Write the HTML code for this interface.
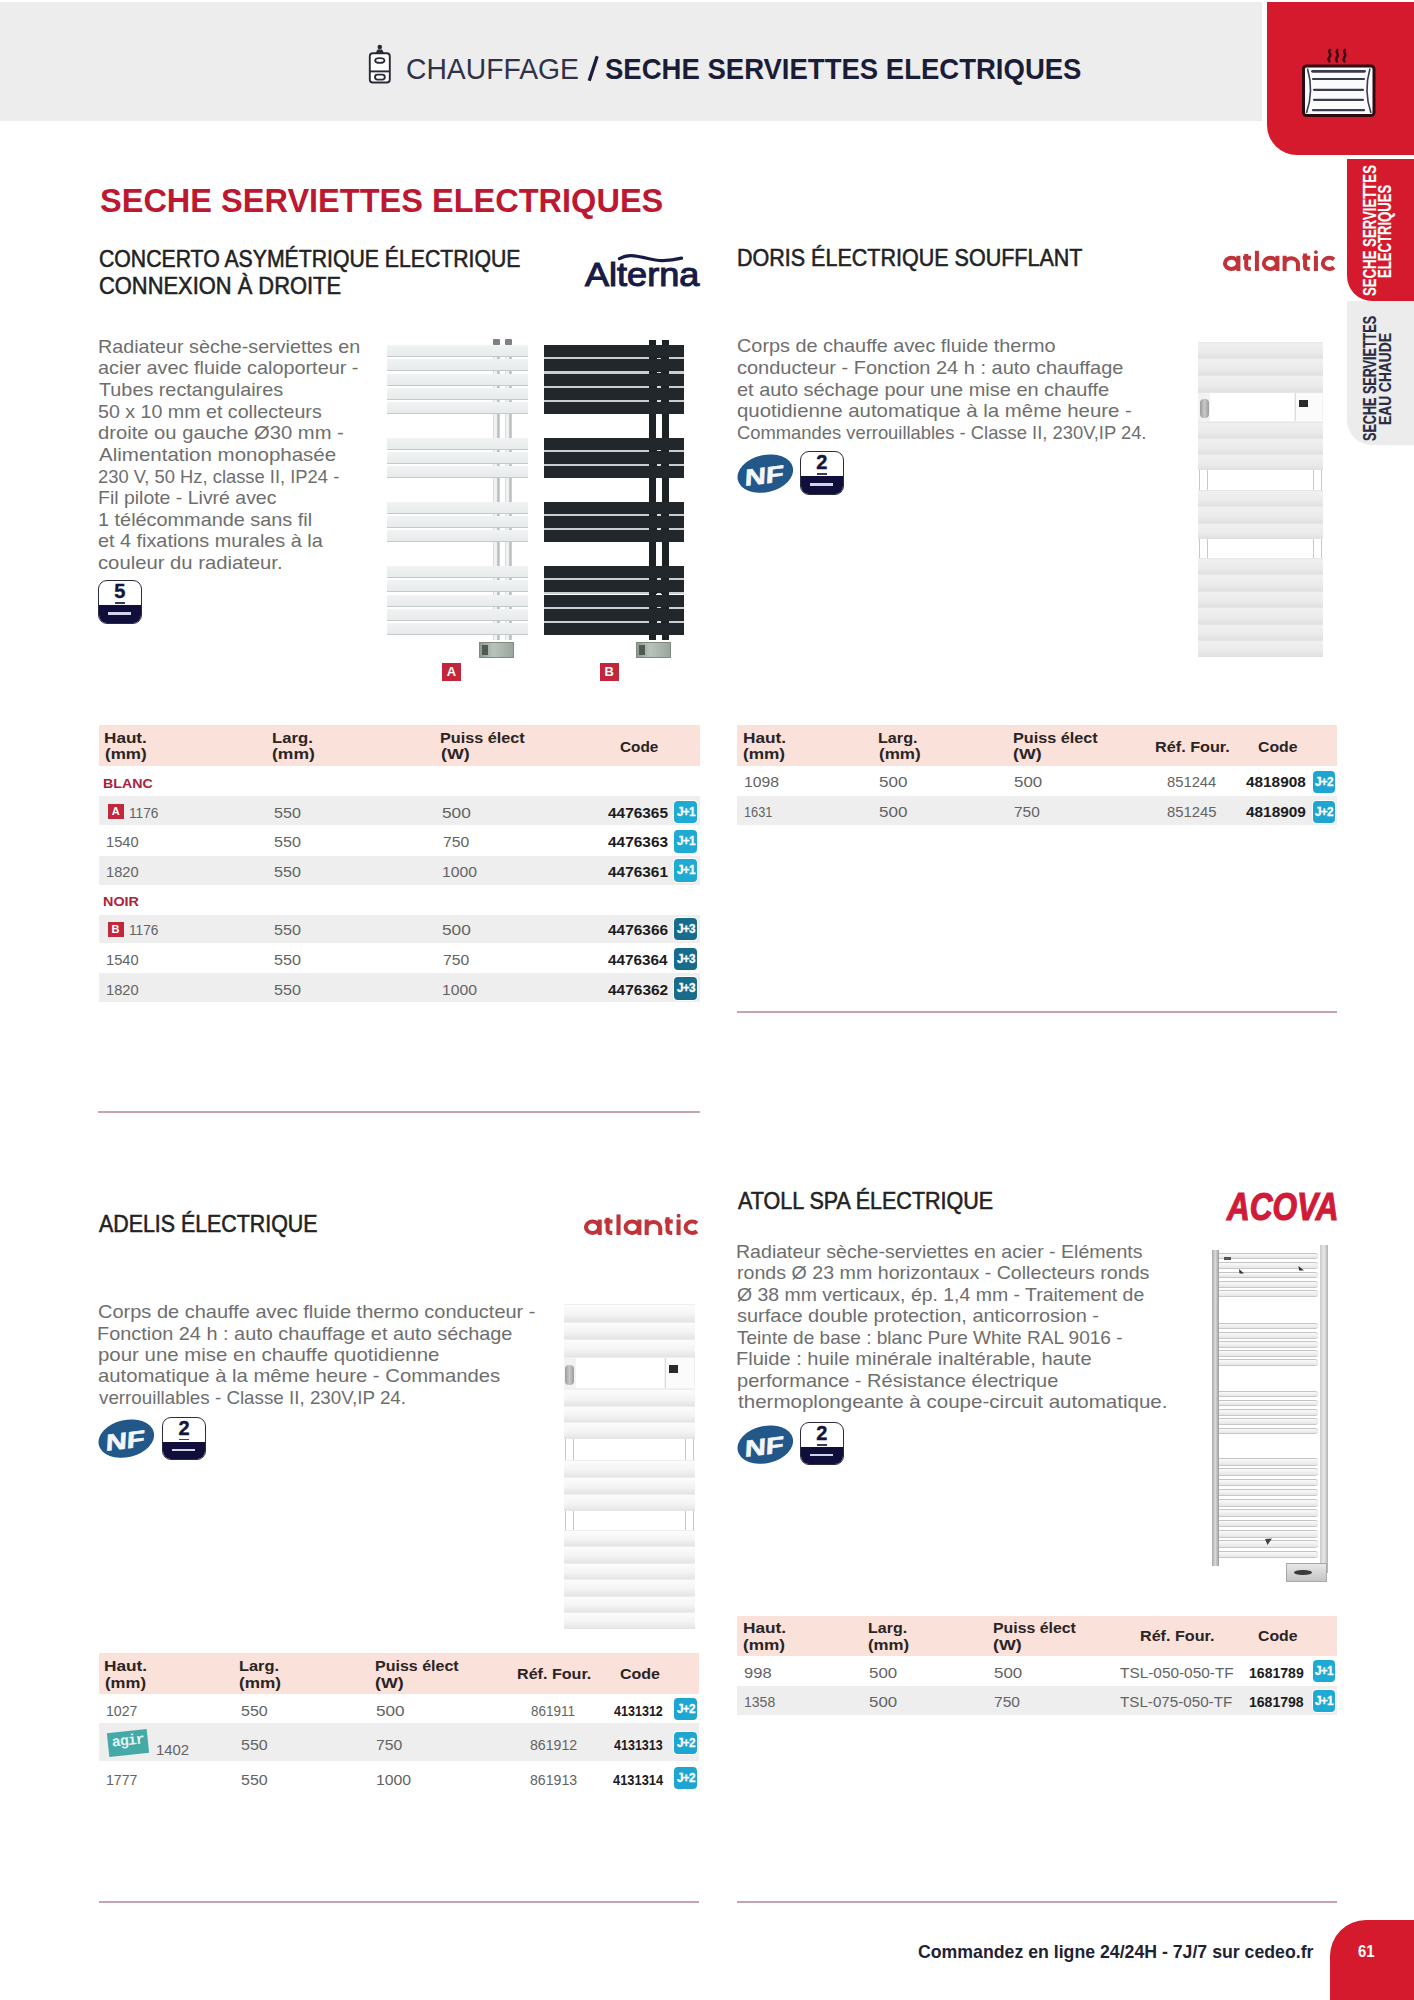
<!DOCTYPE html>
<html><head><meta charset="utf-8"><style>
html,body{margin:0;padding:0;}
body{width:1414px;height:2000px;position:relative;overflow:hidden;background:#fff;font-family:"Liberation Sans",sans-serif;}
.t{position:absolute;white-space:nowrap;transform-origin:0 0;}
.jb{position:absolute;border-radius:4px;color:#fff;font-weight:700;font-size:13px;line-height:22px;text-align:center;letter-spacing:-0.8px;box-shadow:0 0 0 1px #fff;}
.jb span{display:inline-block;transform:scaleX(0.9);-webkit-text-stroke:0.3px #fff;}
.ab{position:absolute;width:16px;height:15px;background:#c0283c;color:#fff;font-weight:700;font-size:11px;line-height:15px;text-align:center;}
.wb{position:absolute;box-sizing:border-box;border:1.9px solid #2b2c44;border-radius:9px;overflow:hidden;background:#fff;}
.wbn{position:absolute;left:0;right:0;top:1px;text-align:center;font-weight:700;font-size:20px;line-height:19px;color:#14153a;-webkit-text-stroke:0.4px #14153a;}
.wbl{position:absolute;left:16px;right:16px;top:21px;height:1.8px;background:#3b3d5e;}
.wbb{position:absolute;left:0;right:0;bottom:0;height:17.5px;background:#100f3c;}
.wbb i{position:absolute;left:9px;right:9.5px;top:7px;height:2.6px;background:#d3d4ea;}
.abl{position:absolute;width:19px;height:18px;background:#c3263a;color:#fff;font-weight:700;font-size:13px;line-height:18px;text-align:center;}
.agir{position:absolute;width:40px;height:24px;background:#45a9a6;color:#dff3f2;font-weight:700;font-size:15px;line-height:22px;text-align:center;transform:rotate(-6deg);font-family:"Liberation Mono",monospace;letter-spacing:-1px;}
</style></head><body>
<div style="position:absolute;left:0;top:2px;width:1262px;height:119px;background:#ededed"></div>
<svg style="position:absolute;left:580px;top:50px" width="25" height="36" viewBox="580 50 25 36"><line x1="589.2" y1="80.8" x2="597.2" y2="56.2" stroke="#1a1c38" stroke-width="3.3"/></svg>
<div style="position:absolute;left:1330px;top:1920px;width:84px;height:80px;background:#d41a2c;border-top-left-radius:36px"></div>
<div style="position:absolute;left:98.0px;top:1110.5px;width:601.8px;height:2.2px;background:#c9a3aa"></div>
<div style="position:absolute;left:737.0px;top:1010.5px;width:600.3px;height:2.2px;background:#c9a3aa"></div>
<div style="position:absolute;left:98.8px;top:1901.3px;width:600.7px;height:2.2px;background:#c9a3aa"></div>
<div style="position:absolute;left:736.6px;top:1900.7px;width:600.7px;height:2.2px;background:#c9a3aa"></div>
<div style="position:absolute;left:98.5px;top:725.1px;width:601.0px;height:41.1px;background:#fae1d9"></div>
<div style="position:absolute;left:98.5px;top:796.4px;width:601.0px;height:29.0px;background:#eeeeee"></div>
<div style="position:absolute;left:98.5px;top:856.1px;width:601.0px;height:28.7px;background:#eeeeee"></div>
<div style="position:absolute;left:98.5px;top:914.9px;width:601.0px;height:28.1px;background:#eeeeee"></div>
<div style="position:absolute;left:98.5px;top:973.3px;width:601.0px;height:28.9px;background:#eeeeee"></div>
<div class="jb" style="left:674.0px;top:800.8px;width:23.0px;height:22.6px;background:#1eaad3"><span>J+1</span></div>
<div class="jb" style="left:674.0px;top:830.0px;width:23.0px;height:22.6px;background:#1eaad3"><span>J+1</span></div>
<div class="jb" style="left:674.0px;top:859.4px;width:23.0px;height:22.6px;background:#1eaad3"><span>J+1</span></div>
<div class="jb" style="left:674.0px;top:917.9px;width:23.0px;height:22.6px;background:#176c8c"><span>J+3</span></div>
<div class="jb" style="left:674.0px;top:947.6px;width:23.0px;height:22.6px;background:#176c8c"><span>J+3</span></div>
<div class="jb" style="left:674.0px;top:977.3px;width:23.0px;height:22.6px;background:#176c8c"><span>J+3</span></div>
<div class="ab" style="left:107.7px;top:804px">A</div>
<div class="ab" style="left:107.5px;top:921.6px">B</div>
<div style="position:absolute;left:737.0px;top:725.3px;width:600.2px;height:40.5px;background:#fae1d9"></div>
<div style="position:absolute;left:737.0px;top:795.6px;width:600.2px;height:29.4px;background:#eeeeee"></div>
<div class="jb" style="left:1313.0px;top:771.2px;width:22.4px;height:22.0px;background:#1fa5d2"><span>J+2</span></div>
<div class="jb" style="left:1313.0px;top:800.8px;width:22.4px;height:22.0px;background:#1fa5d2"><span>J+2</span></div>
<div style="position:absolute;left:98.5px;top:1652.8px;width:600.5px;height:41.5px;background:#fae1d9"></div>
<div style="position:absolute;left:98.5px;top:1723.2px;width:600.5px;height:37.4px;background:#eeeeee"></div>
<div class="jb" style="left:673.6px;top:1697.6px;width:23.5px;height:22.0px;background:#1fa5d2"><span>J+2</span></div>
<div class="jb" style="left:673.6px;top:1732.0px;width:23.5px;height:22.0px;background:#1fa5d2"><span>J+2</span></div>
<div class="jb" style="left:673.6px;top:1767.0px;width:23.5px;height:22.0px;background:#1fa5d2"><span>J+2</span></div>
<div class="agir" style="left:107.5px;top:1731px">agir</div>
<div style="position:absolute;left:737.0px;top:1615.9px;width:600.2px;height:40.6px;background:#fae1d9"></div>
<div style="position:absolute;left:737.0px;top:1685.6px;width:600.2px;height:29.7px;background:#eeeeee"></div>
<div class="jb" style="left:1313.0px;top:1660.4px;width:22.4px;height:22.0px;background:#1eaad3"><span>J+1</span></div>
<div class="jb" style="left:1313.0px;top:1689.8px;width:22.4px;height:22.0px;background:#1eaad3"><span>J+1</span></div>
<svg style="position:absolute;left:360px;top:40px" width="40" height="48" viewBox="360 40 40 48"><g fill="none" stroke="#2a2b3a" stroke-width="1.9"><rect x="369.8" y="53.3" width="20" height="29.2" rx="3" fill="#fff"/><line x1="369.8" y1="71.4" x2="389.8" y2="71.4"/><ellipse cx="379.8" cy="60.5" rx="4.6" ry="2.4"/><rect x="375" y="74.6" width="9.8" height="5" rx="2.5"/></g><path d="M375.5 53.3 L377.5 49.5 L382 49.5 L384.2 53.3 Z" fill="#2a2b3a"/><circle cx="379.8" cy="47" r="2.3" fill="#2a2b3a"/></svg>
<div style="position:absolute;left:1266.5px;top:2px;width:147.5px;height:153px;background:#d41a2c;border-bottom-left-radius:30px"></div>
<svg style="position:absolute;left:1295px;top:44px" width="88" height="80" viewBox="1295 44 88 80"><rect x="1303.5" y="66" width="70.5" height="49.5" rx="3" fill="#fbfbfd" stroke="#2c0c14" stroke-width="3"/><path d="M1307.5 68.5 Q1314 91 1306.5 113" fill="none" stroke="#3a3d4c" stroke-width="1.6"/><path d="M1370 68.5 Q1363.5 91 1371 113" fill="none" stroke="#3a3d4c" stroke-width="1.6"/><g stroke="#3a3d4c" stroke-width="2.2" stroke-linecap="round"><line x1="1312.5" y1="71.3" x2="1364.5" y2="71.3" stroke-width="2.8"/><line x1="1313" y1="79" x2="1364" y2="79"/><line x1="1314" y1="89.8" x2="1363" y2="89.8"/><line x1="1314" y1="99.8" x2="1363" y2="99.8"/><line x1="1313" y1="110.2" x2="1364" y2="110.2"/></g><g fill="none" stroke="#3d0c14" stroke-width="2.5" stroke-linecap="round"><path d="M1329.5 61.5 q-1.8 -2.2 0 -4.4 q1.8 -2.2 0 -4.4 q-0.9 -1.3 0.4 -2.8"/><path d="M1337 61.5 q-1.8 -2.2 0 -4.4 q1.8 -2.2 0 -4.4 q-0.9 -1.3 0.4 -2.8"/><path d="M1344.5 61.5 q-1.8 -2.2 0 -4.4 q1.8 -2.2 0 -4.4 q-0.9 -1.3 0.4 -2.8"/></g></svg>
<div style="position:absolute;left:1347px;top:158.5px;width:67px;height:142.5px;background:#d41a2c;border-bottom-left-radius:25px"></div>
<div style="position:absolute;left:1347px;top:301px;width:67px;height:143.5px;background:#ececec;border-bottom-left-radius:25px"></div>
<svg style="position:absolute;left:600px;top:248px" width="100" height="20" viewBox="600 248 100 20"><path d="M619.5 258.6 C624 256 629 255.2 634 255.8 C645 257 652 260.5 662 260.6 C670 260.7 676 259.6 681.5 258.2" fill="none" stroke="#161b47" stroke-width="3.3" stroke-linecap="round"/></svg>
<svg style="position:absolute;left:1223.00px;top:248.20px;overflow:visible" width="120" height="24" viewBox="0 -23 120 24"><g transform="scale(1.0000)" fill="none" stroke="#bf3339" stroke-width="4.00"><ellipse cx="8.40" cy="-7.60" rx="6.50" ry="5.60"/><line x1="15.40" y1="-15.20" x2="15.40" y2="0"/><path d="M23.20 -17.00 V-4.6 Q23.20 -2.0 27.80 -2.0"/><line x1="20.00" y1="-13.3" x2="28.00" y2="-13.3"/><line x1="33.90" y1="-20.20" x2="33.90" y2="0"/><ellipse cx="47.30" cy="-7.60" rx="6.50" ry="5.60"/><line x1="54.40" y1="-15.20" x2="54.40" y2="0"/><path d="M61.60 -15.2 V0 M61.60 0 V-7.4 A6.7 6.2 0 0 1 74.90 -7.4 V0"/><path d="M82.10 -17.50 V-4.6 Q82.10 -2.0 86.70 -2.0"/><line x1="79.40" y1="-13.3" x2="87.20" y2="-13.3"/><line x1="92.90" y1="-15.20" x2="92.90" y2="0"/><path d="M111.00 -11.60 A6.6 5.6 0 1 0 111.00 -3.60"/><circle cx="92.90" cy="-18.9" r="1.9" fill="#bf3339" stroke="none"/></g></svg>
<svg style="position:absolute;left:584.30px;top:1212.10px;overflow:visible" width="120" height="24" viewBox="0 -23 120 24"><g transform="scale(1.0180)" fill="none" stroke="#bf3339" stroke-width="4.00"><ellipse cx="8.40" cy="-7.60" rx="6.50" ry="5.60"/><line x1="15.40" y1="-15.20" x2="15.40" y2="0"/><path d="M23.20 -17.00 V-4.6 Q23.20 -2.0 27.80 -2.0"/><line x1="20.00" y1="-13.3" x2="28.00" y2="-13.3"/><line x1="33.90" y1="-20.20" x2="33.90" y2="0"/><ellipse cx="47.30" cy="-7.60" rx="6.50" ry="5.60"/><line x1="54.40" y1="-15.20" x2="54.40" y2="0"/><path d="M61.60 -15.2 V0 M61.60 0 V-7.4 A6.7 6.2 0 0 1 74.90 -7.4 V0"/><path d="M82.10 -17.50 V-4.6 Q82.10 -2.0 86.70 -2.0"/><line x1="79.40" y1="-13.3" x2="87.20" y2="-13.3"/><line x1="92.90" y1="-15.20" x2="92.90" y2="0"/><path d="M111.00 -11.60 A6.6 5.6 0 1 0 111.00 -3.60"/><circle cx="92.90" cy="-18.9" r="1.9" fill="#bf3339" stroke="none"/></g></svg>
<div class="wb" style="left:98.0px;top:580.0px;width:43.5px;height:43.5px"><div class="wbn">5</div><div class="wbl"></div><div class="wbb"><i></i></div></div>
<div class="wb" style="left:800.0px;top:451.0px;width:43.5px;height:43.5px"><div class="wbn">2</div><div class="wbl"></div><div class="wbb"><i></i></div></div>
<div class="wb" style="left:162.4px;top:1416.5px;width:43.5px;height:43.5px"><div class="wbn">2</div><div class="wbl"></div><div class="wbb"><i></i></div></div>
<div class="wb" style="left:800.0px;top:1421.8px;width:43.5px;height:43.5px"><div class="wbn">2</div><div class="wbl"></div><div class="wbb"><i></i></div></div>
<svg style="position:absolute;left:737.0px;top:452.5px" width="58" height="42" viewBox="0 0 58 42"><ellipse cx="28.3" cy="20.6" rx="28.2" ry="18.6" transform="rotate(-13 28.3 20.6)" fill="#225789"/><g transform="rotate(-7 28 21)"><text x="11.5" y="30.5" font-family="Liberation Sans" font-weight="700" font-size="23" fill="#f4f7fa" textLength="39" lengthAdjust="spacingAndGlyphs" transform="skewX(-10)" stroke="#f4f7fa" stroke-width="0.6">NF</text></g></svg>
<svg style="position:absolute;left:98.0px;top:1417.5px" width="58" height="42" viewBox="0 0 58 42"><ellipse cx="28.3" cy="20.6" rx="28.2" ry="18.6" transform="rotate(-13 28.3 20.6)" fill="#225789"/><g transform="rotate(-7 28 21)"><text x="11.5" y="30.5" font-family="Liberation Sans" font-weight="700" font-size="23" fill="#f4f7fa" textLength="39" lengthAdjust="spacingAndGlyphs" transform="skewX(-10)" stroke="#f4f7fa" stroke-width="0.6">NF</text></g></svg>
<svg style="position:absolute;left:737.0px;top:1423.5px" width="58" height="42" viewBox="0 0 58 42"><ellipse cx="28.3" cy="20.6" rx="28.2" ry="18.6" transform="rotate(-13 28.3 20.6)" fill="#225789"/><g transform="rotate(-7 28 21)"><text x="11.5" y="30.5" font-family="Liberation Sans" font-weight="700" font-size="23" fill="#f4f7fa" textLength="39" lengthAdjust="spacingAndGlyphs" transform="skewX(-10)" stroke="#f4f7fa" stroke-width="0.6">NF</text></g></svg>
<div style="position:absolute;left:492.6px;top:339.7px;width:7.5px;height:300.1px;background:linear-gradient(90deg,#c9cdcd 0,#f3f5f5 20%,#eef0f0 50%,#b4b8b8 70%,#d2d5d5 100%)"></div>
<div style="position:absolute;left:493.1px;top:339.0px;width:6.5px;height:5.5px;background:#7d8181;border-radius:1px"></div>
<div style="position:absolute;left:504.6px;top:339.7px;width:7.5px;height:300.1px;background:linear-gradient(90deg,#c9cdcd 0,#f3f5f5 20%,#eef0f0 50%,#b4b8b8 70%,#d2d5d5 100%)"></div>
<div style="position:absolute;left:505.1px;top:339.0px;width:6.5px;height:5.5px;background:#7d8181;border-radius:1px"></div>
<div style="position:absolute;left:387.3px;top:345.2px;width:140.7px;height:12.0px;background:linear-gradient(#f1f3f3,#e7ebeb);border-bottom:1.6px solid #c6c9c9;box-sizing:border-box"></div>
<div style="position:absolute;left:387.3px;top:359.4px;width:140.7px;height:12.0px;background:linear-gradient(#f1f3f3,#e7ebeb);border-bottom:1.6px solid #c6c9c9;box-sizing:border-box"></div>
<div style="position:absolute;left:387.3px;top:373.7px;width:140.7px;height:12.0px;background:linear-gradient(#f1f3f3,#e7ebeb);border-bottom:1.6px solid #c6c9c9;box-sizing:border-box"></div>
<div style="position:absolute;left:387.3px;top:387.9px;width:140.7px;height:12.0px;background:linear-gradient(#f1f3f3,#e7ebeb);border-bottom:1.6px solid #c6c9c9;box-sizing:border-box"></div>
<div style="position:absolute;left:387.3px;top:402.2px;width:140.7px;height:12.0px;background:linear-gradient(#f1f3f3,#e7ebeb);border-bottom:1.6px solid #c6c9c9;box-sizing:border-box"></div>
<div style="position:absolute;left:387.3px;top:437.5px;width:140.7px;height:12.0px;background:linear-gradient(#f1f3f3,#e7ebeb);border-bottom:1.6px solid #c6c9c9;box-sizing:border-box"></div>
<div style="position:absolute;left:387.3px;top:451.8px;width:140.7px;height:12.0px;background:linear-gradient(#f1f3f3,#e7ebeb);border-bottom:1.6px solid #c6c9c9;box-sizing:border-box"></div>
<div style="position:absolute;left:387.3px;top:466.0px;width:140.7px;height:12.0px;background:linear-gradient(#f1f3f3,#e7ebeb);border-bottom:1.6px solid #c6c9c9;box-sizing:border-box"></div>
<div style="position:absolute;left:387.3px;top:501.8px;width:140.7px;height:12.0px;background:linear-gradient(#f1f3f3,#e7ebeb);border-bottom:1.6px solid #c6c9c9;box-sizing:border-box"></div>
<div style="position:absolute;left:387.3px;top:516.0px;width:140.7px;height:12.0px;background:linear-gradient(#f1f3f3,#e7ebeb);border-bottom:1.6px solid #c6c9c9;box-sizing:border-box"></div>
<div style="position:absolute;left:387.3px;top:530.3px;width:140.7px;height:12.0px;background:linear-gradient(#f1f3f3,#e7ebeb);border-bottom:1.6px solid #c6c9c9;box-sizing:border-box"></div>
<div style="position:absolute;left:387.3px;top:566.0px;width:140.7px;height:12.0px;background:linear-gradient(#f1f3f3,#e7ebeb);border-bottom:1.6px solid #c6c9c9;box-sizing:border-box"></div>
<div style="position:absolute;left:387.3px;top:580.2px;width:140.7px;height:12.0px;background:linear-gradient(#f1f3f3,#e7ebeb);border-bottom:1.6px solid #c6c9c9;box-sizing:border-box"></div>
<div style="position:absolute;left:387.3px;top:594.5px;width:140.7px;height:12.0px;background:linear-gradient(#f1f3f3,#e7ebeb);border-bottom:1.6px solid #c6c9c9;box-sizing:border-box"></div>
<div style="position:absolute;left:387.3px;top:608.8px;width:140.7px;height:12.0px;background:linear-gradient(#f1f3f3,#e7ebeb);border-bottom:1.6px solid #c6c9c9;box-sizing:border-box"></div>
<div style="position:absolute;left:387.3px;top:623.0px;width:140.7px;height:12.0px;background:linear-gradient(#f1f3f3,#e7ebeb);border-bottom:1.6px solid #c6c9c9;box-sizing:border-box"></div>
<div style="position:absolute;left:478.7px;top:642.0px;width:35.0px;height:15.8px;background:linear-gradient(90deg,#8e9a92,#b9c3bc 40%,#9ba69e);border:1px solid #7f8a82;box-sizing:border-box"></div>
<div style="position:absolute;left:482.2px;top:645.0px;width:5.5px;height:10.0px;background:#4f5a52"></div>
<div style="position:absolute;left:649.0px;top:340.2px;width:7.3px;height:299.6px;background:#1d2224"></div>
<div style="position:absolute;left:661.6px;top:340.2px;width:7.3px;height:299.6px;background:#1d2224"></div>
<div style="position:absolute;left:544.4px;top:345.2px;width:139.6px;height:12.0px;background:#21272a"></div>
<div style="position:absolute;left:544.4px;top:359.4px;width:139.6px;height:12.0px;background:#21272a"></div>
<div style="position:absolute;left:544.4px;top:373.7px;width:139.6px;height:12.0px;background:#21272a"></div>
<div style="position:absolute;left:544.4px;top:387.9px;width:139.6px;height:12.0px;background:#21272a"></div>
<div style="position:absolute;left:544.4px;top:402.2px;width:139.6px;height:12.0px;background:#21272a"></div>
<div style="position:absolute;left:544.4px;top:357.2px;width:139.6px;height:2.2px;background:#c9ced1"></div>
<div style="position:absolute;left:649.0px;top:357.2px;width:19.9px;height:2.2px;background:#1d2224"></div>
<div style="position:absolute;left:656.5px;top:357.5px;width:4.9px;height:1.6px;background:#d5d9da"></div>
<div style="position:absolute;left:544.4px;top:371.4px;width:139.6px;height:2.2px;background:#c9ced1"></div>
<div style="position:absolute;left:649.0px;top:371.4px;width:19.9px;height:2.2px;background:#1d2224"></div>
<div style="position:absolute;left:656.5px;top:371.8px;width:4.9px;height:1.6px;background:#d5d9da"></div>
<div style="position:absolute;left:544.4px;top:385.7px;width:139.6px;height:2.2px;background:#c9ced1"></div>
<div style="position:absolute;left:649.0px;top:385.7px;width:19.9px;height:2.2px;background:#1d2224"></div>
<div style="position:absolute;left:656.5px;top:386.0px;width:4.9px;height:1.6px;background:#d5d9da"></div>
<div style="position:absolute;left:544.4px;top:399.9px;width:139.6px;height:2.2px;background:#c9ced1"></div>
<div style="position:absolute;left:649.0px;top:399.9px;width:19.9px;height:2.2px;background:#1d2224"></div>
<div style="position:absolute;left:656.5px;top:400.2px;width:4.9px;height:1.6px;background:#d5d9da"></div>
<div style="position:absolute;left:544.4px;top:437.5px;width:139.6px;height:12.0px;background:#21272a"></div>
<div style="position:absolute;left:544.4px;top:451.8px;width:139.6px;height:12.0px;background:#21272a"></div>
<div style="position:absolute;left:544.4px;top:466.0px;width:139.6px;height:12.0px;background:#21272a"></div>
<div style="position:absolute;left:544.4px;top:449.5px;width:139.6px;height:2.2px;background:#c9ced1"></div>
<div style="position:absolute;left:649.0px;top:449.5px;width:19.9px;height:2.2px;background:#1d2224"></div>
<div style="position:absolute;left:656.5px;top:449.8px;width:4.9px;height:1.6px;background:#d5d9da"></div>
<div style="position:absolute;left:544.4px;top:463.8px;width:139.6px;height:2.2px;background:#c9ced1"></div>
<div style="position:absolute;left:649.0px;top:463.8px;width:19.9px;height:2.2px;background:#1d2224"></div>
<div style="position:absolute;left:656.5px;top:464.1px;width:4.9px;height:1.6px;background:#d5d9da"></div>
<div style="position:absolute;left:544.4px;top:501.8px;width:139.6px;height:12.0px;background:#21272a"></div>
<div style="position:absolute;left:544.4px;top:516.0px;width:139.6px;height:12.0px;background:#21272a"></div>
<div style="position:absolute;left:544.4px;top:530.3px;width:139.6px;height:12.0px;background:#21272a"></div>
<div style="position:absolute;left:544.4px;top:513.8px;width:139.6px;height:2.2px;background:#c9ced1"></div>
<div style="position:absolute;left:649.0px;top:513.8px;width:19.9px;height:2.2px;background:#1d2224"></div>
<div style="position:absolute;left:656.5px;top:514.1px;width:4.9px;height:1.7px;background:#d5d9da"></div>
<div style="position:absolute;left:544.4px;top:528.0px;width:139.6px;height:2.2px;background:#c9ced1"></div>
<div style="position:absolute;left:649.0px;top:528.0px;width:19.9px;height:2.2px;background:#1d2224"></div>
<div style="position:absolute;left:656.5px;top:528.3px;width:4.9px;height:1.7px;background:#d5d9da"></div>
<div style="position:absolute;left:544.4px;top:566.0px;width:139.6px;height:12.0px;background:#21272a"></div>
<div style="position:absolute;left:544.4px;top:580.2px;width:139.6px;height:12.0px;background:#21272a"></div>
<div style="position:absolute;left:544.4px;top:594.5px;width:139.6px;height:12.0px;background:#21272a"></div>
<div style="position:absolute;left:544.4px;top:608.8px;width:139.6px;height:12.0px;background:#21272a"></div>
<div style="position:absolute;left:544.4px;top:623.0px;width:139.6px;height:12.0px;background:#21272a"></div>
<div style="position:absolute;left:544.4px;top:578.0px;width:139.6px;height:2.2px;background:#c9ced1"></div>
<div style="position:absolute;left:649.0px;top:578.0px;width:19.9px;height:2.2px;background:#1d2224"></div>
<div style="position:absolute;left:656.5px;top:578.3px;width:4.9px;height:1.7px;background:#d5d9da"></div>
<div style="position:absolute;left:544.4px;top:592.2px;width:139.6px;height:2.2px;background:#c9ced1"></div>
<div style="position:absolute;left:649.0px;top:592.2px;width:19.9px;height:2.2px;background:#1d2224"></div>
<div style="position:absolute;left:656.5px;top:592.5px;width:4.9px;height:1.7px;background:#d5d9da"></div>
<div style="position:absolute;left:544.4px;top:606.5px;width:139.6px;height:2.2px;background:#c9ced1"></div>
<div style="position:absolute;left:649.0px;top:606.5px;width:19.9px;height:2.2px;background:#1d2224"></div>
<div style="position:absolute;left:656.5px;top:606.8px;width:4.9px;height:1.7px;background:#d5d9da"></div>
<div style="position:absolute;left:544.4px;top:620.8px;width:139.6px;height:2.2px;background:#c9ced1"></div>
<div style="position:absolute;left:649.0px;top:620.8px;width:19.9px;height:2.2px;background:#1d2224"></div>
<div style="position:absolute;left:656.5px;top:621.0px;width:4.9px;height:1.7px;background:#d5d9da"></div>
<div style="position:absolute;left:635.7px;top:642.0px;width:35.0px;height:15.8px;background:linear-gradient(90deg,#8e9a92,#b9c3bc 40%,#9ba69e);border:1px solid #7f8a82;box-sizing:border-box"></div>
<div style="position:absolute;left:639.2px;top:645.0px;width:5.5px;height:10.0px;background:#4f5a52"></div>
<div class="abl" style="left:442px;top:662.6px">A</div>
<div class="abl" style="left:599.6px;top:662.6px">B</div>
<div style="position:absolute;left:1197.5px;top:341.6px;width:125.5px;height:16.8px;background:linear-gradient(#f0f0f0,#ebebeb 60%,#e0e0e0);border-top:1px solid #e6e6e6;box-sizing:border-box"></div>
<div style="position:absolute;left:1197.5px;top:358.4px;width:125.5px;height:16.8px;background:linear-gradient(#f0f0f0,#ebebeb 60%,#e0e0e0);border-top:1px solid #e6e6e6;box-sizing:border-box"></div>
<div style="position:absolute;left:1197.5px;top:375.2px;width:125.5px;height:16.8px;background:linear-gradient(#f0f0f0,#ebebeb 60%,#e0e0e0);border-top:1px solid #e6e6e6;box-sizing:border-box"></div>
<div style="position:absolute;left:1197.5px;top:421.7px;width:125.5px;height:16.2px;background:linear-gradient(#f0f0f0,#ebebeb 60%,#e0e0e0);border-top:1px solid #e6e6e6;box-sizing:border-box"></div>
<div style="position:absolute;left:1197.5px;top:437.9px;width:125.5px;height:16.2px;background:linear-gradient(#f0f0f0,#ebebeb 60%,#e0e0e0);border-top:1px solid #e6e6e6;box-sizing:border-box"></div>
<div style="position:absolute;left:1197.5px;top:454.2px;width:125.5px;height:16.2px;background:linear-gradient(#f0f0f0,#ebebeb 60%,#e0e0e0);border-top:1px solid #e6e6e6;box-sizing:border-box"></div>
<div style="position:absolute;left:1197.5px;top:490.2px;width:125.5px;height:16.2px;background:linear-gradient(#f0f0f0,#ebebeb 60%,#e0e0e0);border-top:1px solid #e6e6e6;box-sizing:border-box"></div>
<div style="position:absolute;left:1197.5px;top:506.4px;width:125.5px;height:16.2px;background:linear-gradient(#f0f0f0,#ebebeb 60%,#e0e0e0);border-top:1px solid #e6e6e6;box-sizing:border-box"></div>
<div style="position:absolute;left:1197.5px;top:522.6px;width:125.5px;height:16.2px;background:linear-gradient(#f0f0f0,#ebebeb 60%,#e0e0e0);border-top:1px solid #e6e6e6;box-sizing:border-box"></div>
<div style="position:absolute;left:1197.5px;top:557.7px;width:125.5px;height:16.5px;background:linear-gradient(#f0f0f0,#ebebeb 60%,#e0e0e0);border-top:1px solid #e6e6e6;box-sizing:border-box"></div>
<div style="position:absolute;left:1197.5px;top:574.2px;width:125.5px;height:16.5px;background:linear-gradient(#f0f0f0,#ebebeb 60%,#e0e0e0);border-top:1px solid #e6e6e6;box-sizing:border-box"></div>
<div style="position:absolute;left:1197.5px;top:590.7px;width:125.5px;height:16.5px;background:linear-gradient(#f0f0f0,#ebebeb 60%,#e0e0e0);border-top:1px solid #e6e6e6;box-sizing:border-box"></div>
<div style="position:absolute;left:1197.5px;top:607.2px;width:125.5px;height:16.5px;background:linear-gradient(#f0f0f0,#ebebeb 60%,#e0e0e0);border-top:1px solid #e6e6e6;box-sizing:border-box"></div>
<div style="position:absolute;left:1197.5px;top:623.8px;width:125.5px;height:16.5px;background:linear-gradient(#f0f0f0,#ebebeb 60%,#e0e0e0);border-top:1px solid #e6e6e6;box-sizing:border-box"></div>
<div style="position:absolute;left:1197.5px;top:640.3px;width:125.5px;height:16.5px;background:linear-gradient(#f0f0f0,#ebebeb 60%,#e0e0e0);border-top:1px solid #e6e6e6;box-sizing:border-box"></div>
<div style="position:absolute;left:1199.0px;top:470.4px;width:8.5px;height:19.8px;border-left:1.5px solid #c8c8c8;border-right:1.5px solid #c8c8c8;box-sizing:border-box"></div>
<div style="position:absolute;left:1313.0px;top:470.4px;width:8.5px;height:19.8px;border-left:1.5px solid #c8c8c8;border-right:1.5px solid #c8c8c8;box-sizing:border-box"></div>
<div style="position:absolute;left:1199.0px;top:538.8px;width:8.5px;height:18.9px;border-left:1.5px solid #c8c8c8;border-right:1.5px solid #c8c8c8;box-sizing:border-box"></div>
<div style="position:absolute;left:1313.0px;top:538.8px;width:8.5px;height:18.9px;border-left:1.5px solid #c8c8c8;border-right:1.5px solid #c8c8c8;box-sizing:border-box"></div>
<div style="position:absolute;left:1197.5px;top:392.0px;width:125.5px;height:29.7px;background:#f2f2f2;border-top:1px solid #e6e6e6;box-sizing:border-box"></div>
<div style="position:absolute;left:1209.5px;top:393.0px;width:84.5px;height:27.7px;background:#ffffff"></div>
<div style="position:absolute;left:1295.0px;top:393.0px;width:27.0px;height:27.7px;background:#fbfbfb;border-left:1px solid #dddddd;box-sizing:border-box"></div>
<div style="position:absolute;left:1199.5px;top:399.0px;width:9.0px;height:19.0px;background:linear-gradient(90deg,#9c9c9c,#c8c8c8,#9c9c9c);border-radius:4px"></div>
<div style="position:absolute;left:1298.9px;top:400.1px;width:9.0px;height:7.2px;background:#2a2a2a"></div>
<div style="position:absolute;left:563.7px;top:1304.0px;width:131.3px;height:17.5px;background:linear-gradient(#fcfcfc,#f4f4f4 55%,#e4e4e4);border-top:1px solid #eeeeee;box-sizing:border-box"></div>
<div style="position:absolute;left:563.7px;top:1321.5px;width:131.3px;height:17.5px;background:linear-gradient(#fcfcfc,#f4f4f4 55%,#e4e4e4);border-top:1px solid #eeeeee;box-sizing:border-box"></div>
<div style="position:absolute;left:563.7px;top:1339.0px;width:131.3px;height:17.5px;background:linear-gradient(#fcfcfc,#f4f4f4 55%,#e4e4e4);border-top:1px solid #eeeeee;box-sizing:border-box"></div>
<div style="position:absolute;left:563.7px;top:1389.0px;width:131.3px;height:16.6px;background:linear-gradient(#fcfcfc,#f4f4f4 55%,#e4e4e4);border-top:1px solid #eeeeee;box-sizing:border-box"></div>
<div style="position:absolute;left:563.7px;top:1405.6px;width:131.3px;height:16.6px;background:linear-gradient(#fcfcfc,#f4f4f4 55%,#e4e4e4);border-top:1px solid #eeeeee;box-sizing:border-box"></div>
<div style="position:absolute;left:563.7px;top:1422.2px;width:131.3px;height:16.6px;background:linear-gradient(#fcfcfc,#f4f4f4 55%,#e4e4e4);border-top:1px solid #eeeeee;box-sizing:border-box"></div>
<div style="position:absolute;left:563.7px;top:1459.8px;width:131.3px;height:16.9px;background:linear-gradient(#fcfcfc,#f4f4f4 55%,#e4e4e4);border-top:1px solid #eeeeee;box-sizing:border-box"></div>
<div style="position:absolute;left:563.7px;top:1476.7px;width:131.3px;height:16.9px;background:linear-gradient(#fcfcfc,#f4f4f4 55%,#e4e4e4);border-top:1px solid #eeeeee;box-sizing:border-box"></div>
<div style="position:absolute;left:563.7px;top:1493.7px;width:131.3px;height:16.9px;background:linear-gradient(#fcfcfc,#f4f4f4 55%,#e4e4e4);border-top:1px solid #eeeeee;box-sizing:border-box"></div>
<div style="position:absolute;left:563.7px;top:1529.8px;width:131.3px;height:16.5px;background:linear-gradient(#fcfcfc,#f4f4f4 55%,#e4e4e4);border-top:1px solid #eeeeee;box-sizing:border-box"></div>
<div style="position:absolute;left:563.7px;top:1546.3px;width:131.3px;height:16.5px;background:linear-gradient(#fcfcfc,#f4f4f4 55%,#e4e4e4);border-top:1px solid #eeeeee;box-sizing:border-box"></div>
<div style="position:absolute;left:563.7px;top:1562.8px;width:131.3px;height:16.5px;background:linear-gradient(#fcfcfc,#f4f4f4 55%,#e4e4e4);border-top:1px solid #eeeeee;box-sizing:border-box"></div>
<div style="position:absolute;left:563.7px;top:1579.2px;width:131.3px;height:16.5px;background:linear-gradient(#fcfcfc,#f4f4f4 55%,#e4e4e4);border-top:1px solid #eeeeee;box-sizing:border-box"></div>
<div style="position:absolute;left:563.7px;top:1595.7px;width:131.3px;height:16.5px;background:linear-gradient(#fcfcfc,#f4f4f4 55%,#e4e4e4);border-top:1px solid #eeeeee;box-sizing:border-box"></div>
<div style="position:absolute;left:563.7px;top:1612.2px;width:131.3px;height:16.5px;background:linear-gradient(#fcfcfc,#f4f4f4 55%,#e4e4e4);border-top:1px solid #eeeeee;box-sizing:border-box"></div>
<div style="position:absolute;left:565.2px;top:1438.8px;width:8.5px;height:21.0px;border-left:1.5px solid #c8c8c8;border-right:1.5px solid #c8c8c8;box-sizing:border-box"></div>
<div style="position:absolute;left:685.0px;top:1438.8px;width:8.5px;height:21.0px;border-left:1.5px solid #c8c8c8;border-right:1.5px solid #c8c8c8;box-sizing:border-box"></div>
<div style="position:absolute;left:565.2px;top:1510.6px;width:8.5px;height:19.2px;border-left:1.5px solid #c8c8c8;border-right:1.5px solid #c8c8c8;box-sizing:border-box"></div>
<div style="position:absolute;left:685.0px;top:1510.6px;width:8.5px;height:19.2px;border-left:1.5px solid #c8c8c8;border-right:1.5px solid #c8c8c8;box-sizing:border-box"></div>
<div style="position:absolute;left:563.7px;top:1356.5px;width:131.3px;height:32.5px;background:#f2f2f2;border-top:1px solid #eeeeee;box-sizing:border-box"></div>
<div style="position:absolute;left:575.7px;top:1357.5px;width:88.0px;height:30.5px;background:#ffffff"></div>
<div style="position:absolute;left:664.7px;top:1357.5px;width:29.3px;height:30.5px;background:#fbfbfb;border-left:1px solid #dddddd;box-sizing:border-box"></div>
<div style="position:absolute;left:565.4px;top:1365.3px;width:8.2px;height:19.3px;background:linear-gradient(90deg,#9c9c9c,#c8c8c8,#9c9c9c);border-radius:4px"></div>
<div style="position:absolute;left:669.0px;top:1365.3px;width:9.4px;height:7.9px;background:#2a2a2a"></div>
<div style="position:absolute;left:1212.4px;top:1250.3px;width:6.2px;height:315.4px;background:linear-gradient(90deg,#a9a9a9,#d9d9d9,#9a9a9a)"></div>
<div style="position:absolute;left:1320.4px;top:1244.8px;width:7.4px;height:328.2px;background:linear-gradient(90deg,#c9c9c9,#e9e9e9,#b0b0b0)"></div>
<div style="position:absolute;left:1218.6px;top:1252.5px;width:99.9px;height:6.8px;background:linear-gradient(#fafafa,#e6e6e6);border-top:1.2px solid #c4c4c4;border-bottom:1.4px solid #c8c8c8;box-sizing:border-box;border-radius:0 3px 3px 0"></div>
<div style="position:absolute;left:1218.6px;top:1262.0px;width:99.9px;height:6.8px;background:linear-gradient(#fafafa,#e6e6e6);border-top:1.2px solid #c4c4c4;border-bottom:1.4px solid #c8c8c8;box-sizing:border-box;border-radius:0 3px 3px 0"></div>
<div style="position:absolute;left:1218.6px;top:1271.5px;width:99.9px;height:6.8px;background:linear-gradient(#fafafa,#e6e6e6);border-top:1.2px solid #c4c4c4;border-bottom:1.4px solid #c8c8c8;box-sizing:border-box;border-radius:0 3px 3px 0"></div>
<div style="position:absolute;left:1218.6px;top:1280.9px;width:99.9px;height:6.8px;background:linear-gradient(#fafafa,#e6e6e6);border-top:1.2px solid #c4c4c4;border-bottom:1.4px solid #c8c8c8;box-sizing:border-box;border-radius:0 3px 3px 0"></div>
<div style="position:absolute;left:1218.6px;top:1290.4px;width:99.9px;height:6.8px;background:linear-gradient(#fafafa,#e6e6e6);border-top:1.2px solid #c4c4c4;border-bottom:1.4px solid #c8c8c8;box-sizing:border-box;border-radius:0 3px 3px 0"></div>
<div style="position:absolute;left:1218.6px;top:1323.1px;width:99.9px;height:6.4px;background:linear-gradient(#fafafa,#e6e6e6);border-top:1.2px solid #c4c4c4;border-bottom:1.4px solid #c8c8c8;box-sizing:border-box;border-radius:0 3px 3px 0"></div>
<div style="position:absolute;left:1218.6px;top:1332.2px;width:99.9px;height:6.4px;background:linear-gradient(#fafafa,#e6e6e6);border-top:1.2px solid #c4c4c4;border-bottom:1.4px solid #c8c8c8;box-sizing:border-box;border-radius:0 3px 3px 0"></div>
<div style="position:absolute;left:1218.6px;top:1341.2px;width:99.9px;height:6.4px;background:linear-gradient(#fafafa,#e6e6e6);border-top:1.2px solid #c4c4c4;border-bottom:1.4px solid #c8c8c8;box-sizing:border-box;border-radius:0 3px 3px 0"></div>
<div style="position:absolute;left:1218.6px;top:1350.3px;width:99.9px;height:6.4px;background:linear-gradient(#fafafa,#e6e6e6);border-top:1.2px solid #c4c4c4;border-bottom:1.4px solid #c8c8c8;box-sizing:border-box;border-radius:0 3px 3px 0"></div>
<div style="position:absolute;left:1218.6px;top:1359.3px;width:99.9px;height:6.4px;background:linear-gradient(#fafafa,#e6e6e6);border-top:1.2px solid #c4c4c4;border-bottom:1.4px solid #c8c8c8;box-sizing:border-box;border-radius:0 3px 3px 0"></div>
<div style="position:absolute;left:1218.6px;top:1390.5px;width:99.9px;height:6.6px;background:linear-gradient(#fafafa,#e6e6e6);border-top:1.2px solid #c4c4c4;border-bottom:1.4px solid #c8c8c8;box-sizing:border-box;border-radius:0 3px 3px 0"></div>
<div style="position:absolute;left:1218.6px;top:1399.8px;width:99.9px;height:6.6px;background:linear-gradient(#fafafa,#e6e6e6);border-top:1.2px solid #c4c4c4;border-bottom:1.4px solid #c8c8c8;box-sizing:border-box;border-radius:0 3px 3px 0"></div>
<div style="position:absolute;left:1218.6px;top:1409.0px;width:99.9px;height:6.6px;background:linear-gradient(#fafafa,#e6e6e6);border-top:1.2px solid #c4c4c4;border-bottom:1.4px solid #c8c8c8;box-sizing:border-box;border-radius:0 3px 3px 0"></div>
<div style="position:absolute;left:1218.6px;top:1418.3px;width:99.9px;height:6.6px;background:linear-gradient(#fafafa,#e6e6e6);border-top:1.2px solid #c4c4c4;border-bottom:1.4px solid #c8c8c8;box-sizing:border-box;border-radius:0 3px 3px 0"></div>
<div style="position:absolute;left:1218.6px;top:1427.5px;width:99.9px;height:6.6px;background:linear-gradient(#fafafa,#e6e6e6);border-top:1.2px solid #c4c4c4;border-bottom:1.4px solid #c8c8c8;box-sizing:border-box;border-radius:0 3px 3px 0"></div>
<div style="position:absolute;left:1218.6px;top:1458.1px;width:99.9px;height:7.6px;background:linear-gradient(#fafafa,#e6e6e6);border-top:1.2px solid #c4c4c4;border-bottom:1.4px solid #c8c8c8;box-sizing:border-box;border-radius:0 3px 3px 0"></div>
<div style="position:absolute;left:1218.6px;top:1468.4px;width:99.9px;height:7.6px;background:linear-gradient(#fafafa,#e6e6e6);border-top:1.2px solid #c4c4c4;border-bottom:1.4px solid #c8c8c8;box-sizing:border-box;border-radius:0 3px 3px 0"></div>
<div style="position:absolute;left:1218.6px;top:1478.6px;width:99.9px;height:7.6px;background:linear-gradient(#fafafa,#e6e6e6);border-top:1.2px solid #c4c4c4;border-bottom:1.4px solid #c8c8c8;box-sizing:border-box;border-radius:0 3px 3px 0"></div>
<div style="position:absolute;left:1218.6px;top:1488.9px;width:99.9px;height:7.6px;background:linear-gradient(#fafafa,#e6e6e6);border-top:1.2px solid #c4c4c4;border-bottom:1.4px solid #c8c8c8;box-sizing:border-box;border-radius:0 3px 3px 0"></div>
<div style="position:absolute;left:1218.6px;top:1499.2px;width:99.9px;height:7.6px;background:linear-gradient(#fafafa,#e6e6e6);border-top:1.2px solid #c4c4c4;border-bottom:1.4px solid #c8c8c8;box-sizing:border-box;border-radius:0 3px 3px 0"></div>
<div style="position:absolute;left:1218.6px;top:1509.4px;width:99.9px;height:7.6px;background:linear-gradient(#fafafa,#e6e6e6);border-top:1.2px solid #c4c4c4;border-bottom:1.4px solid #c8c8c8;box-sizing:border-box;border-radius:0 3px 3px 0"></div>
<div style="position:absolute;left:1218.6px;top:1519.7px;width:99.9px;height:7.6px;background:linear-gradient(#fafafa,#e6e6e6);border-top:1.2px solid #c4c4c4;border-bottom:1.4px solid #c8c8c8;box-sizing:border-box;border-radius:0 3px 3px 0"></div>
<div style="position:absolute;left:1218.6px;top:1530.0px;width:99.9px;height:7.6px;background:linear-gradient(#fafafa,#e6e6e6);border-top:1.2px solid #c4c4c4;border-bottom:1.4px solid #c8c8c8;box-sizing:border-box;border-radius:0 3px 3px 0"></div>
<div style="position:absolute;left:1218.6px;top:1540.3px;width:99.9px;height:7.6px;background:linear-gradient(#fafafa,#e6e6e6);border-top:1.2px solid #c4c4c4;border-bottom:1.4px solid #c8c8c8;box-sizing:border-box;border-radius:0 3px 3px 0"></div>
<div style="position:absolute;left:1218.6px;top:1550.5px;width:99.9px;height:7.6px;background:linear-gradient(#fafafa,#e6e6e6);border-top:1.2px solid #c4c4c4;border-bottom:1.4px solid #c8c8c8;box-sizing:border-box;border-radius:0 3px 3px 0"></div>
<div style="position:absolute;left:1286.0px;top:1563.0px;width:41.0px;height:19.0px;background:linear-gradient(#e8e8e8,#c4c4c4);border:1px solid #a8a8a8;box-sizing:border-box"></div>
<div style="position:absolute;left:1294.0px;top:1569.5px;width:18.0px;height:5.5px;background:#3a3a3a;border-radius:50%"></div>
<div style="position:absolute;left:1223.5px;top:1257.0px;width:7.0px;height:2.5px;background:#555"></div>
<svg style="position:absolute;left:1236px;top:1264px" width="70" height="12" viewBox="1236 1264 70 12"><path d="M1239 1269 L1244 1273.5 L1239.5 1273.5 Z M1298.5 1266 L1304 1270.5 L1299 1270.5 Z" fill="#333"/></svg>
<svg style="position:absolute;left:1262px;top:1536px" width="14" height="12" viewBox="1262 1536 14 12"><path d="M1265 1539 L1272 1538.5 L1267.5 1545 Z" fill="#444"/></svg>
<div class="t" style="left:406.17px;top:55.00px;font-size:28.78px;line-height:28.78px;font-weight:400;color:#303247;transform:scaleX(0.9836);">CHAUFFAGE</div>
<div class="t" style="left:605.37px;top:54.00px;font-size:29.51px;line-height:29.51px;font-weight:700;color:#1a1c38;transform:scaleX(0.9326);">SECHE SERVIETTES ELECTRIQUES</div>
<div class="t" style="left:99.99px;top:185.00px;font-size:32.56px;line-height:32.56px;font-weight:700;color:#bc1832;transform:scaleX(0.9993);">SECHE SERVIETTES ELECTRIQUES</div>
<div class="t" style="left:99.00px;top:248.00px;font-size:23.40px;line-height:23.40px;font-weight:400;color:#222;transform:scaleX(0.9075);-webkit-text-stroke:0.55px #222;">CONCERTO ASYMÉTRIQUE ÉLECTRIQUE</div>
<div class="t" style="left:98.97px;top:275.00px;font-size:23.40px;line-height:23.40px;font-weight:400;color:#222;transform:scaleX(0.9360);-webkit-text-stroke:0.55px #222;">CONNEXION À DROITE</div>
<div class="t" style="left:736.85px;top:247.00px;font-size:23.40px;line-height:23.40px;font-weight:400;color:#222;transform:scaleX(0.9197);-webkit-text-stroke:0.55px #222;">DORIS ÉLECTRIQUE SOUFFLANT</div>
<div class="t" style="left:99.00px;top:1213.00px;font-size:23.40px;line-height:23.40px;font-weight:400;color:#222;transform:scaleX(0.9137);-webkit-text-stroke:0.55px #222;">ADELIS ÉLECTRIQUE</div>
<div class="t" style="left:737.50px;top:1190.00px;font-size:23.40px;line-height:23.40px;font-weight:400;color:#222;transform:scaleX(0.9203);-webkit-text-stroke:0.55px #222;">ATOLL SPA ÉLECTRIQUE</div>
<div class="t" style="left:97.64px;top:339.00px;font-size:17.73px;line-height:17.73px;font-weight:400;color:#6e6e6e;transform:scaleX(1.1136);">Radiateur sèche-serviettes en</div>
<div class="t" style="left:98.42px;top:360.00px;font-size:17.73px;line-height:17.73px;font-weight:400;color:#6e6e6e;transform:scaleX(1.1206);">acier avec fluide caloporteur -</div>
<div class="t" style="left:98.86px;top:382.00px;font-size:17.73px;line-height:17.73px;font-weight:400;color:#6e6e6e;transform:scaleX(1.1172);">Tubes rectangulaires</div>
<div class="t" style="left:98.42px;top:404.00px;font-size:17.73px;line-height:17.73px;font-weight:400;color:#6e6e6e;transform:scaleX(1.1082);">50 x 10 mm et collecteurs</div>
<div class="t" style="left:98.40px;top:425.00px;font-size:17.73px;line-height:17.73px;font-weight:400;color:#6e6e6e;transform:scaleX(1.1396);">droite ou gauche Ø30 mm -</div>
<div class="t" style="left:99.20px;top:447.00px;font-size:17.73px;line-height:17.73px;font-weight:400;color:#6e6e6e;transform:scaleX(1.1577);">Alimentation monophasée</div>
<div class="t" style="left:98.37px;top:469.00px;font-size:17.73px;line-height:17.73px;font-weight:400;color:#6e6e6e;transform:scaleX(1.0365);">230 V, 50 Hz, classe II, IP24 -</div>
<div class="t" style="left:97.66px;top:490.00px;font-size:17.73px;line-height:17.73px;font-weight:400;color:#6e6e6e;transform:scaleX(1.0980);">Fil pilote - Livré avec</div>
<div class="t" style="left:97.74px;top:512.00px;font-size:17.73px;line-height:17.73px;font-weight:400;color:#6e6e6e;transform:scaleX(1.1209);">1 télécommande sans fil</div>
<div class="t" style="left:98.42px;top:533.00px;font-size:17.73px;line-height:17.73px;font-weight:400;color:#6e6e6e;transform:scaleX(1.1182);">et 4 fixations murales à la</div>
<div class="t" style="left:98.40px;top:555.00px;font-size:17.73px;line-height:17.73px;font-weight:400;color:#6e6e6e;transform:scaleX(1.1427);">couleur du radiateur.</div>
<div class="t" style="left:736.89px;top:338.00px;font-size:17.73px;line-height:17.73px;font-weight:400;color:#6e6e6e;transform:scaleX(1.1206);">Corps de chauffe avec fluide thermo</div>
<div class="t" style="left:737.11px;top:360.00px;font-size:17.73px;line-height:17.73px;font-weight:400;color:#6e6e6e;transform:scaleX(1.1284);">conducteur - Fonction 24 h : auto chauffage</div>
<div class="t" style="left:737.11px;top:382.00px;font-size:17.73px;line-height:17.73px;font-weight:400;color:#6e6e6e;transform:scaleX(1.1255);">et auto séchage pour une mise en chauffe</div>
<div class="t" style="left:737.09px;top:403.00px;font-size:17.73px;line-height:17.73px;font-weight:400;color:#6e6e6e;transform:scaleX(1.1521);">quotidienne automatique à la même heure -</div>
<div class="t" style="left:736.97px;top:425.00px;font-size:17.73px;line-height:17.73px;font-weight:400;color:#6e6e6e;transform:scaleX(1.0368);">Commandes verrouillables - Classe II, 230V,IP 24.</div>
<div class="t" style="left:97.98px;top:1304.00px;font-size:17.73px;line-height:17.73px;font-weight:400;color:#6e6e6e;transform:scaleX(1.1283);">Corps de chauffe avec fluide thermo conducteur -</div>
<div class="t" style="left:97.43px;top:1326.00px;font-size:17.73px;line-height:17.73px;font-weight:400;color:#6e6e6e;transform:scaleX(1.1225);">Fonction 24 h : auto chauffage et auto séchage</div>
<div class="t" style="left:97.73px;top:1347.00px;font-size:17.73px;line-height:17.73px;font-weight:400;color:#6e6e6e;transform:scaleX(1.1525);">pour une mise en chauffe quotidienne</div>
<div class="t" style="left:98.20px;top:1368.00px;font-size:17.73px;line-height:17.73px;font-weight:400;color:#6e6e6e;transform:scaleX(1.1437);">automatique à la même heure - Commandes</div>
<div class="t" style="left:99.00px;top:1390.00px;font-size:17.73px;line-height:17.73px;font-weight:400;color:#6e6e6e;transform:scaleX(1.0603);">verrouillables - Classe II, 230V,IP 24.</div>
<div class="t" style="left:736.25px;top:1244.00px;font-size:17.73px;line-height:17.73px;font-weight:400;color:#6e6e6e;transform:scaleX(1.1038);">Radiateur sèche-serviettes en acier - Eléments</div>
<div class="t" style="left:736.58px;top:1265.00px;font-size:17.73px;line-height:17.73px;font-weight:400;color:#6e6e6e;transform:scaleX(1.1079);">ronds Ø 23 mm horizontaux - Collecteurs ronds</div>
<div class="t" style="left:737.14px;top:1287.00px;font-size:17.73px;line-height:17.73px;font-weight:400;color:#6e6e6e;transform:scaleX(1.0969);">Ø 38 mm verticaux, ép. 1,4 mm - Traitement de</div>
<div class="t" style="left:737.35px;top:1308.00px;font-size:17.73px;line-height:17.73px;font-weight:400;color:#6e6e6e;transform:scaleX(1.1273);">surface double protection, anticorrosion -</div>
<div class="t" style="left:737.48px;top:1330.00px;font-size:17.73px;line-height:17.73px;font-weight:400;color:#6e6e6e;transform:scaleX(1.0745);">Teinte de base : blanc Pure White RAL 9016 -</div>
<div class="t" style="left:736.22px;top:1351.00px;font-size:17.73px;line-height:17.73px;font-weight:400;color:#6e6e6e;transform:scaleX(1.1316);">Fluide : huile minérale inaltérable, haute</div>
<div class="t" style="left:736.56px;top:1373.00px;font-size:17.73px;line-height:17.73px;font-weight:400;color:#6e6e6e;transform:scaleX(1.1291);">performance - Résistance électrique</div>
<div class="t" style="left:737.57px;top:1394.00px;font-size:17.73px;line-height:17.73px;font-weight:400;color:#6e6e6e;transform:scaleX(1.1596);">thermoplongeante à coupe-circuit automatique.</div>
<div class="t" style="left:1360.74px;top:296.07px;font-size:18.02px;line-height:18.02px;font-weight:700;color:#fff;transform:rotate(-90deg) scaleX(0.7322);-webkit-text-stroke:0.15px #fff;">SECHE SERVIETTES</div>
<div class="t" style="left:1376.99px;top:277.81px;font-size:17.73px;line-height:17.73px;font-weight:700;color:#fff;transform:rotate(-90deg) scaleX(0.7404);-webkit-text-stroke:0.15px #fff;">ELECTRIQUES</div>
<div class="t" style="left:1360.67px;top:441.34px;font-size:18.46px;line-height:18.46px;font-weight:700;color:#2b2d42;transform:rotate(-90deg) scaleX(0.6833);-webkit-text-stroke:0.15px #2b2d42;">SECHE SERVIETTES</div>
<div class="t" style="left:1377.48px;top:425.19px;font-size:17.15px;line-height:17.15px;font-weight:700;color:#2b2d42;transform:rotate(-90deg) scaleX(0.8046);-webkit-text-stroke:0.15px #2b2d42;">EAU CHAUDE</div>
<div class="t" style="left:918.23px;top:1943.00px;font-size:18.60px;line-height:18.60px;font-weight:700;color:#1f2233;transform:scaleX(0.9520);">Commandez en ligne 24/24H - 7J/7 sur cedeo.fr</div>
<div class="t" style="left:1358.23px;top:1944.00px;font-size:15.84px;line-height:15.84px;font-weight:700;color:#fff;transform:scaleX(0.9396);">61</div>
<div class="t" style="left:104.09px;top:732.00px;font-size:13.95px;line-height:13.95px;font-weight:700;color:#2a2424;transform:scaleX(1.2295);">Haut.</div>
<div class="t" style="left:104.77px;top:748.00px;font-size:13.95px;line-height:13.95px;font-weight:700;color:#2a2424;transform:scaleX(1.2205);">(mm)</div>
<div class="t" style="left:272.12px;top:732.00px;font-size:13.95px;line-height:13.95px;font-weight:700;color:#2a2424;transform:scaleX(1.1969);">Larg.</div>
<div class="t" style="left:272.45px;top:748.00px;font-size:13.95px;line-height:13.95px;font-weight:700;color:#2a2424;transform:scaleX(1.2570);">(mm)</div>
<div class="t" style="left:440.35px;top:732.00px;font-size:13.95px;line-height:13.95px;font-weight:700;color:#2a2424;transform:scaleX(1.1635);">Puiss élect</div>
<div class="t" style="left:440.63px;top:748.00px;font-size:13.95px;line-height:13.95px;font-weight:700;color:#2a2424;transform:scaleX(1.2775);">(W)</div>
<div class="t" style="left:620.15px;top:741.00px;font-size:13.95px;line-height:13.95px;font-weight:700;color:#2a2424;transform:scaleX(1.0997);">Code</div>
<div class="t" style="left:102.62px;top:778.00px;font-size:12.94px;line-height:12.94px;font-weight:700;color:#ad2139;transform:scaleX(1.0968);">BLANC</div>
<div class="t" style="left:102.61px;top:896.00px;font-size:12.94px;line-height:12.94px;font-weight:700;color:#ad2139;transform:scaleX(1.1119);">NOIR</div>
<div class="t" style="left:128.82px;top:807.00px;font-size:13.95px;line-height:13.95px;font-weight:400;color:#636363;transform:scaleX(0.9845);">1176</div>
<div class="t" style="left:274.02px;top:807.00px;font-size:13.95px;line-height:13.95px;font-weight:400;color:#636363;transform:scaleX(1.1560);">550</div>
<div class="t" style="left:441.98px;top:807.00px;font-size:13.95px;line-height:13.95px;font-weight:400;color:#636363;transform:scaleX(1.2411);">500</div>
<div class="t" style="left:607.78px;top:807.00px;font-size:13.95px;line-height:13.95px;font-weight:700;color:#1c1c1c;transform:scaleX(1.1050);">4476365</div>
<div class="t" style="left:106.15px;top:836.00px;font-size:13.95px;line-height:13.95px;font-weight:400;color:#636363;transform:scaleX(1.0515);">1540</div>
<div class="t" style="left:274.02px;top:836.00px;font-size:13.95px;line-height:13.95px;font-weight:400;color:#636363;transform:scaleX(1.1560);">550</div>
<div class="t" style="left:442.71px;top:836.00px;font-size:13.95px;line-height:13.95px;font-weight:400;color:#636363;transform:scaleX(1.1303);">750</div>
<div class="t" style="left:607.78px;top:836.00px;font-size:13.95px;line-height:13.95px;font-weight:700;color:#1c1c1c;transform:scaleX(1.1071);">4476363</div>
<div class="t" style="left:106.15px;top:866.00px;font-size:13.95px;line-height:13.95px;font-weight:400;color:#636363;transform:scaleX(1.0515);">1820</div>
<div class="t" style="left:274.02px;top:866.00px;font-size:13.95px;line-height:13.95px;font-weight:400;color:#636363;transform:scaleX(1.1560);">550</div>
<div class="t" style="left:442.37px;top:866.00px;font-size:13.95px;line-height:13.95px;font-weight:400;color:#636363;transform:scaleX(1.1292);">1000</div>
<div class="t" style="left:607.78px;top:866.00px;font-size:13.95px;line-height:13.95px;font-weight:700;color:#1c1c1c;transform:scaleX(1.1050);">4476361</div>
<div class="t" style="left:128.82px;top:924.00px;font-size:13.95px;line-height:13.95px;font-weight:400;color:#636363;transform:scaleX(0.9845);">1176</div>
<div class="t" style="left:274.02px;top:924.00px;font-size:13.95px;line-height:13.95px;font-weight:400;color:#636363;transform:scaleX(1.1560);">550</div>
<div class="t" style="left:441.98px;top:924.00px;font-size:13.95px;line-height:13.95px;font-weight:400;color:#636363;transform:scaleX(1.2411);">500</div>
<div class="t" style="left:607.78px;top:924.00px;font-size:13.95px;line-height:13.95px;font-weight:700;color:#1c1c1c;transform:scaleX(1.1071);">4476366</div>
<div class="t" style="left:106.15px;top:954.00px;font-size:13.95px;line-height:13.95px;font-weight:400;color:#636363;transform:scaleX(1.0515);">1540</div>
<div class="t" style="left:274.02px;top:954.00px;font-size:13.95px;line-height:13.95px;font-weight:400;color:#636363;transform:scaleX(1.1560);">550</div>
<div class="t" style="left:442.71px;top:954.00px;font-size:13.95px;line-height:13.95px;font-weight:400;color:#636363;transform:scaleX(1.1303);">750</div>
<div class="t" style="left:607.78px;top:954.00px;font-size:13.95px;line-height:13.95px;font-weight:700;color:#1c1c1c;transform:scaleX(1.0989);">4476364</div>
<div class="t" style="left:106.15px;top:984.00px;font-size:13.95px;line-height:13.95px;font-weight:400;color:#636363;transform:scaleX(1.0515);">1820</div>
<div class="t" style="left:274.02px;top:984.00px;font-size:13.95px;line-height:13.95px;font-weight:400;color:#636363;transform:scaleX(1.1560);">550</div>
<div class="t" style="left:442.37px;top:984.00px;font-size:13.95px;line-height:13.95px;font-weight:400;color:#636363;transform:scaleX(1.1292);">1000</div>
<div class="t" style="left:607.78px;top:984.00px;font-size:13.95px;line-height:13.95px;font-weight:700;color:#1c1c1c;transform:scaleX(1.1091);">4476362</div>
<div class="t" style="left:742.79px;top:732.00px;font-size:13.95px;line-height:13.95px;font-weight:700;color:#2a2424;transform:scaleX(1.2386);">Haut.</div>
<div class="t" style="left:743.16px;top:748.00px;font-size:13.95px;line-height:13.95px;font-weight:700;color:#2a2424;transform:scaleX(1.2357);">(mm)</div>
<div class="t" style="left:878.26px;top:732.00px;font-size:13.95px;line-height:13.95px;font-weight:700;color:#2a2424;transform:scaleX(1.1598);">Larg.</div>
<div class="t" style="left:878.57px;top:748.00px;font-size:13.95px;line-height:13.95px;font-weight:700;color:#2a2424;transform:scaleX(1.2235);">(mm)</div>
<div class="t" style="left:1012.95px;top:732.00px;font-size:13.95px;line-height:13.95px;font-weight:700;color:#2a2424;transform:scaleX(1.1621);">Puiss élect</div>
<div class="t" style="left:1013.24px;top:748.00px;font-size:13.95px;line-height:13.95px;font-weight:700;color:#2a2424;transform:scaleX(1.2727);">(W)</div>
<div class="t" style="left:1155.15px;top:741.00px;font-size:13.95px;line-height:13.95px;font-weight:700;color:#2a2424;transform:scaleX(1.1637);">Réf. Four.</div>
<div class="t" style="left:1258.03px;top:741.00px;font-size:13.95px;line-height:13.95px;font-weight:700;color:#2a2424;transform:scaleX(1.1321);">Code</div>
<div class="t" style="left:744.07px;top:776.00px;font-size:13.95px;line-height:13.95px;font-weight:400;color:#636363;transform:scaleX(1.1297);">1098</div>
<div class="t" style="left:879.39px;top:776.00px;font-size:13.95px;line-height:13.95px;font-weight:400;color:#636363;transform:scaleX(1.2232);">500</div>
<div class="t" style="left:1013.90px;top:776.00px;font-size:13.95px;line-height:13.95px;font-weight:400;color:#636363;transform:scaleX(1.2098);">500</div>
<div class="t" style="left:1166.96px;top:776.00px;font-size:13.95px;line-height:13.95px;font-weight:400;color:#636363;transform:scaleX(1.0593);">851244</div>
<div class="t" style="left:1246.38px;top:776.00px;font-size:13.95px;line-height:13.95px;font-weight:700;color:#1c1c1c;transform:scaleX(1.1013);">4818908</div>
<div class="t" style="left:744.28px;top:806.00px;font-size:13.95px;line-height:13.95px;font-weight:400;color:#636363;transform:scaleX(0.9157);">1631</div>
<div class="t" style="left:879.39px;top:806.00px;font-size:13.95px;line-height:13.95px;font-weight:400;color:#636363;transform:scaleX(1.2232);">500</div>
<div class="t" style="left:1013.72px;top:806.00px;font-size:13.95px;line-height:13.95px;font-weight:400;color:#636363;transform:scaleX(1.1077);">750</div>
<div class="t" style="left:1166.96px;top:806.00px;font-size:13.95px;line-height:13.95px;font-weight:400;color:#636363;transform:scaleX(1.0640);">851245</div>
<div class="t" style="left:1246.38px;top:806.00px;font-size:13.95px;line-height:13.95px;font-weight:700;color:#1c1c1c;transform:scaleX(1.1033);">4818909</div>
<div class="t" style="left:104.39px;top:1660.00px;font-size:13.95px;line-height:13.95px;font-weight:700;color:#2a2424;transform:scaleX(1.2386);">Haut.</div>
<div class="t" style="left:104.78px;top:1677.00px;font-size:13.95px;line-height:13.95px;font-weight:700;color:#2a2424;transform:scaleX(1.2022);">(mm)</div>
<div class="t" style="left:239.04px;top:1660.00px;font-size:13.95px;line-height:13.95px;font-weight:700;color:#2a2424;transform:scaleX(1.1753);">Larg.</div>
<div class="t" style="left:239.36px;top:1677.00px;font-size:13.95px;line-height:13.95px;font-weight:700;color:#2a2424;transform:scaleX(1.2326);">(mm)</div>
<div class="t" style="left:374.57px;top:1660.00px;font-size:13.95px;line-height:13.95px;font-weight:700;color:#2a2424;transform:scaleX(1.1482);">Puiss élect</div>
<div class="t" style="left:374.83px;top:1677.00px;font-size:13.95px;line-height:13.95px;font-weight:700;color:#2a2424;transform:scaleX(1.2775);">(W)</div>
<div class="t" style="left:516.96px;top:1668.00px;font-size:13.95px;line-height:13.95px;font-weight:700;color:#2a2424;transform:scaleX(1.1557);">Réf. Four.</div>
<div class="t" style="left:619.73px;top:1668.00px;font-size:13.95px;line-height:13.95px;font-weight:700;color:#2a2424;transform:scaleX(1.1468);">Code</div>
<div class="t" style="left:105.99px;top:1705.00px;font-size:13.95px;line-height:13.95px;font-weight:400;color:#636363;transform:scaleX(1.0110);">1027</div>
<div class="t" style="left:240.93px;top:1705.00px;font-size:13.95px;line-height:13.95px;font-weight:400;color:#636363;transform:scaleX(1.1470);">550</div>
<div class="t" style="left:375.88px;top:1705.00px;font-size:13.95px;line-height:13.95px;font-weight:400;color:#636363;transform:scaleX(1.2322);">500</div>
<div class="t" style="left:530.92px;top:1705.00px;font-size:13.95px;line-height:13.95px;font-weight:400;color:#636363;transform:scaleX(0.9670);">861911</div>
<div class="t" style="left:613.62px;top:1705.00px;font-size:13.95px;line-height:13.95px;font-weight:700;color:#1c1c1c;transform:scaleX(0.9000);">4131312</div>
<div class="t" style="left:155.73px;top:1744.00px;font-size:13.95px;line-height:13.95px;font-weight:400;color:#636363;transform:scaleX(1.0688);">1402</div>
<div class="t" style="left:240.93px;top:1739.00px;font-size:13.95px;line-height:13.95px;font-weight:400;color:#636363;transform:scaleX(1.1470);">550</div>
<div class="t" style="left:376.21px;top:1739.00px;font-size:13.95px;line-height:13.95px;font-weight:400;color:#636363;transform:scaleX(1.1303);">750</div>
<div class="t" style="left:529.89px;top:1739.00px;font-size:13.95px;line-height:13.95px;font-weight:400;color:#636363;transform:scaleX(1.0155);">861912</div>
<div class="t" style="left:613.62px;top:1739.00px;font-size:13.95px;line-height:13.95px;font-weight:700;color:#1c1c1c;transform:scaleX(0.8983);">4131313</div>
<div class="t" style="left:105.99px;top:1774.00px;font-size:13.95px;line-height:13.95px;font-weight:400;color:#636363;transform:scaleX(1.0110);">1777</div>
<div class="t" style="left:240.93px;top:1774.00px;font-size:13.95px;line-height:13.95px;font-weight:400;color:#636363;transform:scaleX(1.1470);">550</div>
<div class="t" style="left:375.87px;top:1774.00px;font-size:13.95px;line-height:13.95px;font-weight:400;color:#636363;transform:scaleX(1.1326);">1000</div>
<div class="t" style="left:529.89px;top:1774.00px;font-size:13.95px;line-height:13.95px;font-weight:400;color:#636363;transform:scaleX(1.0133);">861913</div>
<div class="t" style="left:612.82px;top:1774.00px;font-size:13.95px;line-height:13.95px;font-weight:700;color:#1c1c1c;transform:scaleX(0.9250);">4131314</div>
<div class="t" style="left:742.79px;top:1622.00px;font-size:13.95px;line-height:13.95px;font-weight:700;color:#2a2424;transform:scaleX(1.2386);">Haut.</div>
<div class="t" style="left:743.16px;top:1639.00px;font-size:13.95px;line-height:13.95px;font-weight:700;color:#2a2424;transform:scaleX(1.2357);">(mm)</div>
<div class="t" style="left:867.67px;top:1622.00px;font-size:13.95px;line-height:13.95px;font-weight:700;color:#2a2424;transform:scaleX(1.1474);">Larg.</div>
<div class="t" style="left:867.98px;top:1639.00px;font-size:13.95px;line-height:13.95px;font-weight:700;color:#2a2424;transform:scaleX(1.2083);">(mm)</div>
<div class="t" style="left:992.88px;top:1622.00px;font-size:13.95px;line-height:13.95px;font-weight:700;color:#2a2424;transform:scaleX(1.1371);">Puiss élect</div>
<div class="t" style="left:993.13px;top:1639.00px;font-size:13.95px;line-height:13.95px;font-weight:700;color:#2a2424;transform:scaleX(1.2775);">(W)</div>
<div class="t" style="left:1140.26px;top:1630.00px;font-size:13.95px;line-height:13.95px;font-weight:700;color:#2a2424;transform:scaleX(1.1573);">Réf. Four.</div>
<div class="t" style="left:1258.03px;top:1630.00px;font-size:13.95px;line-height:13.95px;font-weight:700;color:#2a2424;transform:scaleX(1.1321);">Code</div>
<div class="t" style="left:744.49px;top:1667.00px;font-size:13.95px;line-height:13.95px;font-weight:400;color:#636363;transform:scaleX(1.1891);">998</div>
<div class="t" style="left:869.10px;top:1667.00px;font-size:13.95px;line-height:13.95px;font-weight:400;color:#636363;transform:scaleX(1.2098);">500</div>
<div class="t" style="left:993.69px;top:1667.00px;font-size:13.95px;line-height:13.95px;font-weight:400;color:#636363;transform:scaleX(1.2142);">500</div>
<div class="t" style="left:1120.17px;top:1667.00px;font-size:13.95px;line-height:13.95px;font-weight:400;color:#636363;transform:scaleX(1.1036);">TSL-050-050-TF</div>
<div class="t" style="left:1248.59px;top:1667.00px;font-size:13.95px;line-height:13.95px;font-weight:700;color:#1c1c1c;transform:scaleX(1.0084);">1681789</div>
<div class="t" style="left:744.19px;top:1696.00px;font-size:13.95px;line-height:13.95px;font-weight:400;color:#636363;transform:scaleX(1.0075);">1358</div>
<div class="t" style="left:869.10px;top:1696.00px;font-size:13.95px;line-height:13.95px;font-weight:400;color:#636363;transform:scaleX(1.2098);">500</div>
<div class="t" style="left:993.52px;top:1696.00px;font-size:13.95px;line-height:13.95px;font-weight:400;color:#636363;transform:scaleX(1.1167);">750</div>
<div class="t" style="left:1120.17px;top:1696.00px;font-size:13.95px;line-height:13.95px;font-weight:400;color:#636363;transform:scaleX(1.0889);">TSL-075-050-TF</div>
<div class="t" style="left:1248.59px;top:1696.00px;font-size:13.95px;line-height:13.95px;font-weight:700;color:#1c1c1c;transform:scaleX(1.0065);">1681798</div>
<div class="t" style="left:584.50px;top:258.00px;font-size:33.43px;line-height:33.43px;font-weight:400;color:#161b47;transform:scaleX(1.0788);-webkit-text-stroke:1.1px #161b47;">Alterna</div>
<div class="t" style="left:1227.29px;top:1188.00px;font-size:38.81px;line-height:38.81px;font-weight:700;color:#d01b38;transform:scaleX(0.8122);font-style:italic;-webkit-text-stroke:1.2px #d01b38;">ACOVA</div>
</body></html>
